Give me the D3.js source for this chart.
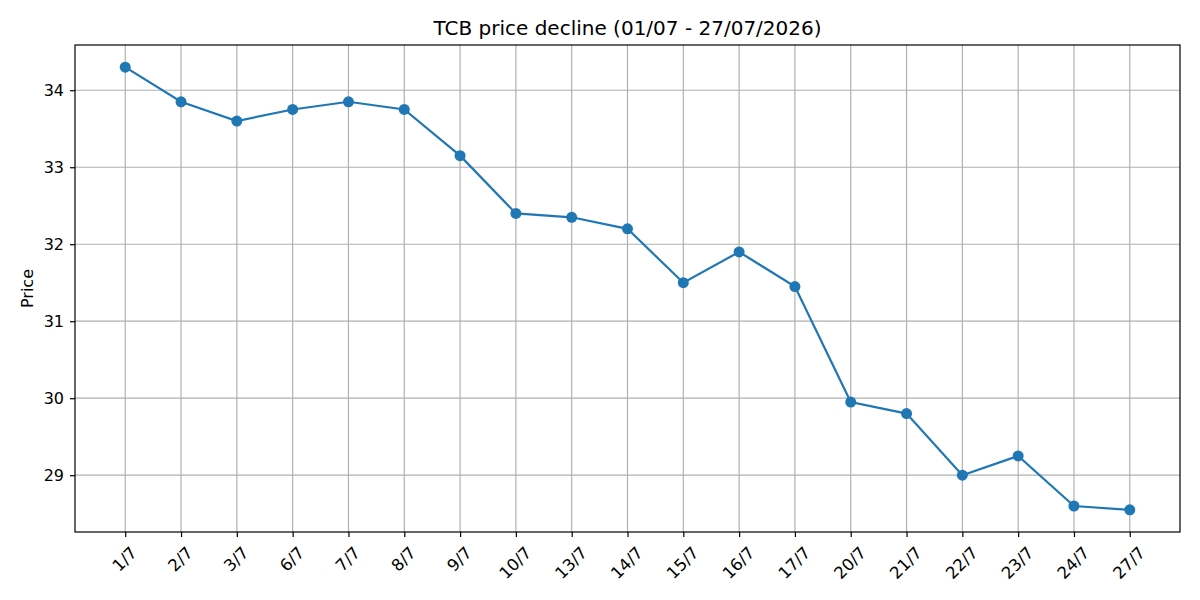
<!DOCTYPE html>
<html>
<head>
<meta charset="utf-8">
<title>TCB price decline</title>
<script src="https://cdn.jsdelivr.net/npm/d3@7/dist/d3.min.js"></script>
<style>
  body { margin: 0; background: #fff; }
  svg text { font-family: 'DejaVu Sans', sans-serif; fill: #000; }
</style>
</head>
<body>
<svg width="1200" height="600" id="mainsvg"></svg>
<script>
const days = ['1/7', '2/7', '3/7', '6/7', '7/7', '8/7', '9/7', '10/7', '13/7', '14/7',
              '15/7', '16/7', '17/7', '20/7', '21/7', '22/7', '23/7', '24/7', '27/7']
const prices = [34.3, 33.85, 33.6, 33.75, 33.85, 33.75, 33.15, 32.4, 32.35, 32.2,
                31.5, 31.9, 31.45, 29.95, 29.8, 29.0, 29.25, 28.6, 28.55]
const yTicks = [29, 30, 31, 32, 33, 34]
const title = 'TCB price decline (01/07 - 27/07/2026)'

const svg = d3.select('svg')
const margin = {top: 45, right: 20, bottom: 68, left: 75}
const width = +svg.attr('width')
const height = +svg.attr('height')
const innerWidth = width - margin.left - margin.right
const innerHeight = height - margin.top - margin.bottom
const g = svg.append('g').attr('transform', `translate(${margin.left}, ${margin.top})`)

const xScale = d3.scalePoint().domain(days).range([0, innerWidth]).padding(0.9)
const lo = d3.min(prices), hi = d3.max(prices), pad = (hi - lo) * 0.05
const yScale = d3.scaleLinear().domain([lo - pad, hi + pad]).range([innerHeight, 0])

// grid
g.selectAll('.vgrid').data(days).join('line')
  .attr('x1', d => xScale(d)).attr('x2', d => xScale(d))
  .attr('y1', 0).attr('y2', innerHeight)
  .attr('stroke', '#b0b0b0').attr('stroke-width', 1.2)
g.selectAll('.hgrid').data(yTicks).join('line')
  .attr('x1', 0).attr('x2', innerWidth)
  .attr('y1', d => yScale(d)).attr('y2', d => yScale(d))
  .attr('stroke', '#b0b0b0').attr('stroke-width', 1.2)

// axes
const xAxis = g.append('g').attr('transform', `translate(0, ${innerHeight})`)
  .call(d3.axisBottom(xScale).tickSize(5).tickPadding(5).tickSizeOuter(0))
const yAxis = g.append('g')
  .call(d3.axisLeft(yScale).tickValues(yTicks).tickFormat(d3.format('d'))
    .tickSize(5).tickPadding(6).tickSizeOuter(0))
;[xAxis, yAxis].forEach(a => {
  a.select('.domain').remove()
  a.selectAll('.tick line').attr('stroke', '#000').attr('stroke-width', 1.2)
  a.selectAll('text').attr('font-size', '16px').attr('font-family', 'DejaVu Sans')
})
xAxis.selectAll('text').attr('font-size', '16.5px')

// rotated x labels, bbox centred on the tick
xAxis.selectAll('.tick text').each(function() {
  const t = d3.select(this)
  const w = this.getComputedTextLength()
  const h = 16.5
  const half = (w + h) * Math.SQRT1_2 / 2
  t.attr('y', null).attr('dy', null)
    .attr('text-anchor', 'middle')
    .attr('dominant-baseline', 'central')
    .attr('transform', `translate(-1, ${12 + half}) rotate(-45)`)
})

// frame
g.append('rect').attr('width', innerWidth).attr('height', innerHeight)
  .attr('fill', 'none').attr('stroke', '#000').attr('stroke-width', 1.2)

// line + markers
const line = d3.line().x((d, i) => xScale(days[i])).y(d => yScale(d))
g.append('path').datum(prices)
  .attr('d', line).attr('fill', 'none')
  .attr('stroke', '#1f77b4').attr('stroke-width', 2.2)
g.selectAll('.dot').data(prices).join('circle')
  .attr('cx', (d, i) => xScale(days[i])).attr('cy', d => yScale(d))
  .attr('r', 5.5).attr('fill', '#1f77b4')

// title + label
svg.append('text')
  .attr('x', margin.left + innerWidth / 2).attr('y', margin.top - 10)
  .attr('text-anchor', 'middle').attr('font-size', '20px')
  .text(title)
svg.append('text')
  .attr('transform', `translate(33, ${margin.top + innerHeight / 2}) rotate(-90)`)
  .attr('text-anchor', 'middle').attr('font-size', '16px')
  .text('Price')
</script>
</body>
</html>
